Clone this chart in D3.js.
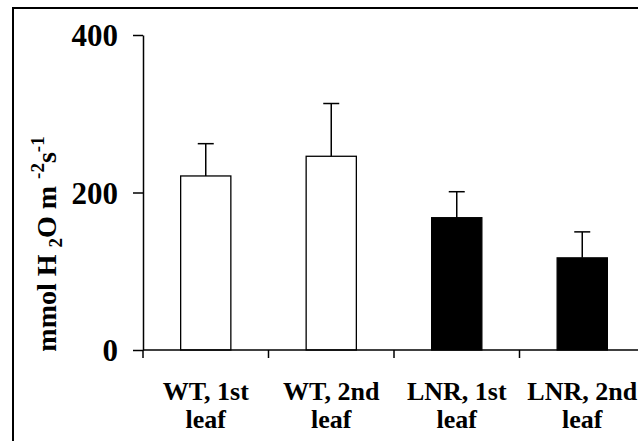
<!DOCTYPE html>
<html>
<head>
<meta charset="utf-8">
<script src="https://cdn.jsdelivr.net/npm/d3@7"></script>
<style>
  body { margin: 0; background: #fff; }
  svg { display: block; }
  svg text { font-family: 'Liberation Serif', 'Times New Roman', Times, serif !important; font-weight: bold; fill: #000; }
</style>
</head>
<body>
<svg id="chart"></svg>
<script>
const categories = [["WT, 1st", "leaf"], ["WT, 2nd", "leaf"], ["LNR, 1st", "leaf"], ["LNR, 2nd", "leaf"]],
    values = [221, 246, 168, 117],
    errors = [41, 67, 33, 33],
    fills = ["#fff", "#fff", "#000", "#000"],
    yTicks = [0, 200, 400];

const width = 638,
    height = 441,
    plotLeft = 143,
    plotRight = 645,
    plotTop = 35,
    plotBottom = 350;

const svg = d3.select("#chart")
    .attr("width", width)
    .attr("height", height);

// outer frame (right and bottom edges run past the picture)
svg.append("rect")
    .attr("x", 13)
    .attr("y", 8)
    .attr("width", 700)
    .attr("height", 500)
    .attr("fill", "none")
    .attr("stroke", "#000")
    .attr("stroke-width", 2);

const x = d3.scaleBand()
    .domain(d3.range(categories.length))
    .range([plotLeft, plotRight])
    .paddingInner(0.6)
    .paddingOuter(0.3);

const y = d3.scaleLinear()
    .domain([0, 400])
    .range([plotBottom, plotTop]);

// bars
svg.append("g")
    .selectAll("rect")
    .data(values)
    .enter()
    .append("rect")
    .attr("x", function (d, i) { return x(i); })
    .attr("y", function (d) { return y(d); })
    .attr("width", x.bandwidth())
    .attr("height", function (d) { return y(0) - y(d); })
    .attr("fill", function (d, i) { return fills[i]; })
    .attr("stroke", "#000")
    .attr("stroke-width", 1.3);

// error bars, upper half only
const err = svg.append("g")
    .attr("stroke", "#000")
    .attr("stroke-width", 1.5);

values.forEach(function (v, i) {
    const cx = x(i) + x.bandwidth() / 2;
    err.append("line")
        .attr("x1", cx).attr("x2", cx)
        .attr("y1", y(v)).attr("y2", y(v + errors[i]));
    err.append("line")
        .attr("x1", cx - 8).attr("x2", cx + 8)
        .attr("y1", y(v + errors[i])).attr("y2", y(v + errors[i]));
});

// y axis
const yAxis = svg.append("g")
    .attr("transform", "translate(" + plotLeft + ",0)")
    .call(d3.axisLeft(y).tickValues(yTicks).tickSize(10).tickPadding(15).tickSizeOuter(0));

yAxis.attr("font-family", null).attr("font-size", null);
yAxis.select(".domain").attr("stroke-width", 1.5);
yAxis.selectAll(".tick line").attr("stroke-width", 1.5);
yAxis.selectAll(".tick text")
    .style("font-size", "31px")
    .attr("dy", "0.34em");

// x axis with ticks between categories
const step = x.step();
const xAxis = svg.append("g")
    .attr("stroke", "#000")
    .attr("stroke-width", 1.5);

xAxis.append("line")
    .attr("x1", plotLeft).attr("x2", plotRight)
    .attr("y1", y(0)).attr("y2", y(0));

xAxis.selectAll("line.tick")
    .data(d3.range(categories.length + 1))
    .enter()
    .append("line")
    .attr("class", "tick")
    .attr("x1", function (i) { return plotLeft + i * step; })
    .attr("x2", function (i) { return plotLeft + i * step; })
    .attr("y1", y(0))
    .attr("y2", y(0) + 8);

const labels = svg.append("g")
    .selectAll("text")
    .data(categories)
    .enter()
    .append("text")
    .attr("text-anchor", "middle")
    .style("font-size", "26px")
    .attr("x", function (d, i) { return x(i) + x.bandwidth() / 2; })
    .attr("y", 400);

labels.append("tspan")
    .text(function (d) { return d[0]; });

labels.append("tspan")
    .attr("x", function (d, i) { return x(i) + x.bandwidth() / 2; })
    .attr("dy", 28)
    .text(function (d) { return d[1]; });

// y axis title
const title = svg.append("text")
    .attr("transform", "translate(56,244) rotate(-90)")
    .attr("text-anchor", "middle")
    .style("font-size", "28px");

title.append("tspan").text("mmol H ");
title.append("tspan").style("font-size", "19px").attr("dy", 6).text("2");
title.append("tspan").attr("dy", -6).text("O m ");
title.append("tspan").style("font-size", "19px").attr("dy", -12).text("-2");
title.append("tspan").attr("dy", 12).text("s");
title.append("tspan").style("font-size", "19px").attr("dy", -12).text("-1");
</script>
</body>
</html>
